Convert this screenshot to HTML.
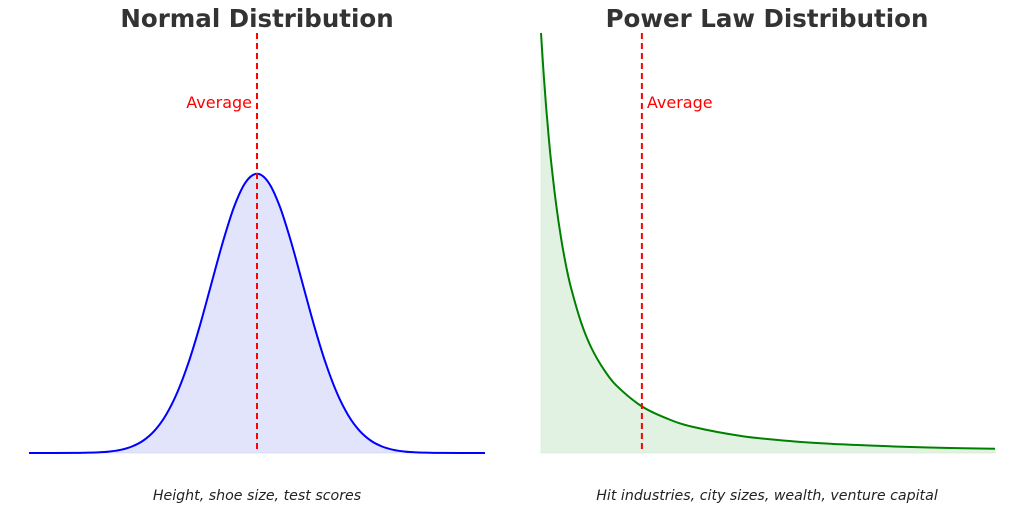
<!DOCTYPE html>
<html><head><meta charset="utf-8"><style>
body{margin:0;background:#fff;width:1024px;height:510px;overflow:hidden;font-family:"Liberation Sans","DejaVu Sans",sans-serif}
</style></head><body>
<svg id="chart" width="1024" height="510" xmlns="http://www.w3.org/2000/svg">
<text x="257" y="27" text-anchor="middle" font-size="24.5" font-weight="bold" fill="#333" font-family="DejaVu Sans, sans-serif">Normal Distribution</text>
<text x="767" y="27" text-anchor="middle" font-size="24.5" font-weight="bold" fill="#333" font-family="DejaVu Sans, sans-serif">Power Law Distribution</text>
<g id="left"></g>
<g id="right"></g>
<text x="257" y="500" text-anchor="middle" font-size="14.2" font-style="italic" fill="#222" font-family="DejaVu Sans, sans-serif">Height, shoe size, test scores</text>
<text x="767" y="500" text-anchor="middle" font-size="14.2" font-style="italic" fill="#222" font-family="DejaVu Sans, sans-serif">Hit industries, city sizes, wealth, venture capital</text>
</svg>
<script>
const normalX=[-5,-4,-3.75,-3.5,-3.25,-3,-2.75,-2.5,-2.25,-2,-1.75,-1.5,-1.25,-1,-0.75,-0.5,-0.25,0,0.25,0.5,0.75,1,1.25,1.5,1.75,2,2.25,2.5,2.75,3,3.25,3.5,3.75,4,5];
const normalY=[0,0.0001,0.0004,0.0009,0.0020,0.0044,0.0091,0.0175,0.0317,0.0540,0.0863,0.1295,0.1826,0.2420,0.3011,0.3521,0.3867,0.3989,0.3867,0.3521,0.3011,0.2420,0.1826,0.1295,0.0863,0.0540,0.0317,0.0175,0.0091,0.0044,0.0020,0.0009,0.0004,0.0001,0];
const normalAvg=0;
const powerX=[1,1.05,1.1,1.15,1.2,1.3,1.4,1.5,1.6,1.8,2,2.25,2.5,3,3.5,4,5,6,7,8,9,10];
const powerY=[1,0.907,0.826,0.756,0.694,0.592,0.510,0.444,0.391,0.309,0.25,0.198,0.16,0.111,0.082,0.0625,0.04,0.0278,0.0204,0.0156,0.0123,0.01];
const powerAvg=3;
const NS="http://www.w3.org/2000/svg";
function mk(tag,attrs,parent){const e=document.createElementNS(NS,tag);for(const k in attrs)e.setAttribute(k,attrs[k]);parent.appendChild(e);return e;}
function smooth(p){
  let d="M"+p[0][0].toFixed(2)+","+p[0][1].toFixed(2);
  for(let i=0;i<p.length-1;i++){
    const p0=p[Math.max(i-1,0)],p1=p[i],p2=p[i+1],p3=p[Math.min(i+2,p.length-1)];
    const c1=[p1[0]+(p2[0]-p0[0])/6,p1[1]+(p2[1]-p0[1])/6];
    const c2=[p2[0]-(p3[0]-p1[0])/6,p2[1]-(p3[1]-p1[1])/6];
    d+="C"+c1[0].toFixed(2)+","+c1[1].toFixed(2)+" "+c2[0].toFixed(2)+","+c2[1].toFixed(2)+" "+p2[0].toFixed(2)+","+p2[1].toFixed(2);
  }
  return d;
}
function panel(g,xs,ys,x0,x1,dmin,dmax,ymax,stroke,fill,fillOp,avg,avgLeft,prefix){
  const top=33,bot=453;
  const sx=v=>x0+(v-dmin)/(dmax-dmin)*(x1-x0);
  const sy=v=>bot-v/ymax*(bot-top);
  const pts=xs.map((x,i)=>[sx(x),sy(ys[i])]);
  const d=smooth(pts);
  const area=mk("path",{d:d+"L"+sx(xs[xs.length-1])+","+bot+"L"+sx(xs[0])+","+bot+"Z",fill:fill,"fill-opacity":fillOp,stroke:fill,"stroke-opacity":0.5},g);
  
  
  const line=mk("path",{d:d,fill:"none",stroke:stroke,"stroke-width":2},g);
  
  
  const ax=sx(avg);
  const al=mk("line",{x1:ax,x2:ax,y1:top,y2:bot,stroke:"red","stroke-width":2,"stroke-dasharray":"6,4"},g);
  
  
  const t=mk("text",{x:avgLeft?ax-5:ax+5,y:108,"text-anchor":avgLeft?"end":"start","font-size":16,fill:"red","font-family":"DejaVu Sans, sans-serif"},g);
  t.textContent="Average";
  
  
}
panel(document.getElementById("left"),normalX,normalY,29,485,-5,5,0.6,"#0000ff","#c8cef5",0.55,normalAvg,true,"normal");
panel(document.getElementById("right"),powerX,powerY,541,995,1,10,1.0,"#008000","#c6e6c6",0.5,powerAvg,false,"power-law");
</script>
</body></html>
